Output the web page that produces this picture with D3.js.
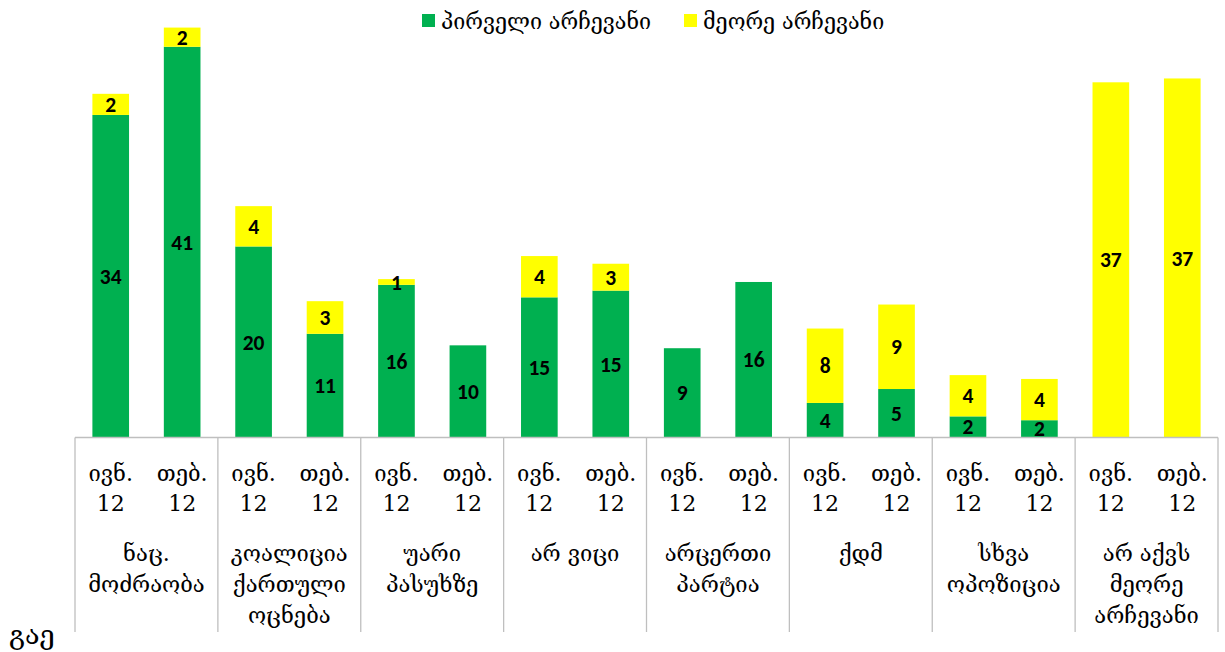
<!DOCTYPE html>
<html>
<head>
<meta charset="utf-8">
<script src="https://cdn.jsdelivr.net/npm/d3@7"></script>
<style>
  html, body { margin: 0; padding: 0; background: #fff; }
  svg { display: block; }
</style>
</head>
<body>
<svg id="chart" width="1225" height="652"></svg>
<script>
// pirveli / meore archevani, ivn. 12 vs teb. 12 (%)
const groupLabels = [
  ['ნაც.', 'მოძრაობა'],
  ['კოალიცია', 'ქართული', 'ოცნება'],
  ['უარი', 'პასუხზე'],
  ['არ ვიცი'],
  ['არცერთი', 'პარტია'],
  ['ქდმ'],
  ['სხვა', 'ოპოზიცია'],
  ['არ აქვს', 'მეორე', 'არჩევანი']
];
const periods = [['ივნ.', '12'], ['თებ.', '12']];
const seriesNames = ['პირველი არჩევანი', 'მეორე არჩევანი'];
// ordered group by group: ivn, teb
const firstChoice  = [33.6, 40.7, 19.9, 10.8, 15.9, 9.6, 14.6, 15.3, 9.3, 16.2, 3.6, 5.05, 2.2, 1.8, 0, 0];
const secondChoice = [2.2, 2.0, 4.2, 3.4, 0.6, 0, 4.3, 2.8, 0, 0, 7.75, 8.8, 4.3, 4.3, 37.0, 37.4];

const GREEN = '#00B050', YELLOW = '#FFFF00', AXIS = '#BFBFBF';
const GEO = "Sylfaen, 'DejaVu Serif', serif";
const NUM = "Calibri, Carlito, Lato, 'Open Sans', sans-serif";

const svg = d3.select('#chart');
const X0 = 75, X1 = 1218, BASE = 437.5;

const gx = d3.scaleBand().domain(d3.range(groupLabels.length)).range([X0, X1]);
const px = d3.scaleBand().domain(d3.range(periods.length)).range([0, gx.bandwidth()])
  .paddingInner(0.487).paddingOuter(0.2435);
const y = d3.scaleLinear().domain([0, 45]).range([BASE, BASE - 45 * 9.6]);

const rows = firstChoice.map((v, i) => ({
  g: Math.floor(i / periods.length), p: i % periods.length, a: v, b: secondChoice[i]
}));
const stack = d3.stack().keys(['a', 'b'])(rows);
const colors = [GREEN, YELLOW];

const gBars = svg.append('g');
stack.forEach((layer, k) => {
  gBars.append('g').attr('fill', colors[k]).selectAll('rect').data(layer).join('rect')
    .attr('x', d => gx(d.data.g) + px(d.data.p))
    .attr('width', px.bandwidth())
    .attr('y', d => y(d[1]))
    .attr('height', d => y(d[0]) - y(d[1]));
});

// data labels
const gLbl = svg.append('g').attr('font-family', NUM).attr('font-weight', 700)
  .attr('font-size', 21.5).attr('fill', '#000').attr('text-anchor', 'middle');
stack.forEach(layer => {
  gLbl.selectAll(null).data(layer.filter(d => d[1] - d[0] > 0)).join('text')
    .attr('x', d => gx(d.data.g) + px(d.data.p) + px.bandwidth() / 2)
    .attr('y', d => (y(d[0]) + y(d[1])) / 2)
    .attr('dy', '0.35em')
    .text(d => Math.round(d[1] - d[0]));
});

// axis + group dividers
const gAx = svg.append('g').attr('stroke', AXIS).attr('stroke-width', 1.3);
gAx.append('line').attr('x1', X0).attr('x2', X1).attr('y1', BASE).attr('y2', BASE);
gAx.selectAll(null).data(d3.range(groupLabels.length + 1)).join('line')
  .attr('x1', i => i < groupLabels.length ? gx(i) : X1)
  .attr('x2', i => i < groupLabels.length ? gx(i) : X1)
  .attr('y1', BASE).attr('y2', 632);

// period labels
const gPer = svg.append('g').attr('font-family', GEO).attr('font-size', 22)
  .attr('fill', '#000').attr('text-anchor', 'middle');
rows.forEach(r => {
  const cx = gx(r.g) + px(r.p) + px.bandwidth() / 2;
  periods[r.p].forEach((t, j) => {
    gPer.append('text').attr('x', cx).attr('y', 473 + j * 30.5).attr('dy', '0.35em').text(t);
  });
});

// group labels
const gGrp = svg.append('g').attr('font-family', GEO).attr('font-size', 22)
  .attr('fill', '#000').attr('text-anchor', 'middle');
groupLabels.forEach((lines, i) => {
  lines.forEach((t, j) => {
    gGrp.append('text').attr('x', gx(i) + gx.bandwidth() / 2)
      .attr('y', 553 + j * 31).attr('dy', '0.35em').text(t);
  });
});

// legend
const legX = [422, 684];
const gLeg = svg.append('g').attr('font-family', GEO).attr('font-size', 21.5);
seriesNames.forEach((n, i) => {
  gLeg.append('rect').attr('x', legX[i]).attr('y', 14).attr('width', 13).attr('height', 13).attr('fill', colors[i]);
  gLeg.append('text').attr('x', legX[i] + 19).attr('y', 21).attr('dy', '0.35em').text(n);
});

// cut-off note bottom left
svg.append('text').attr('x', 9).attr('y', 644).attr('font-family', GEO).attr('font-size', 27).text('გაე');
</script>
</body>
</html>
